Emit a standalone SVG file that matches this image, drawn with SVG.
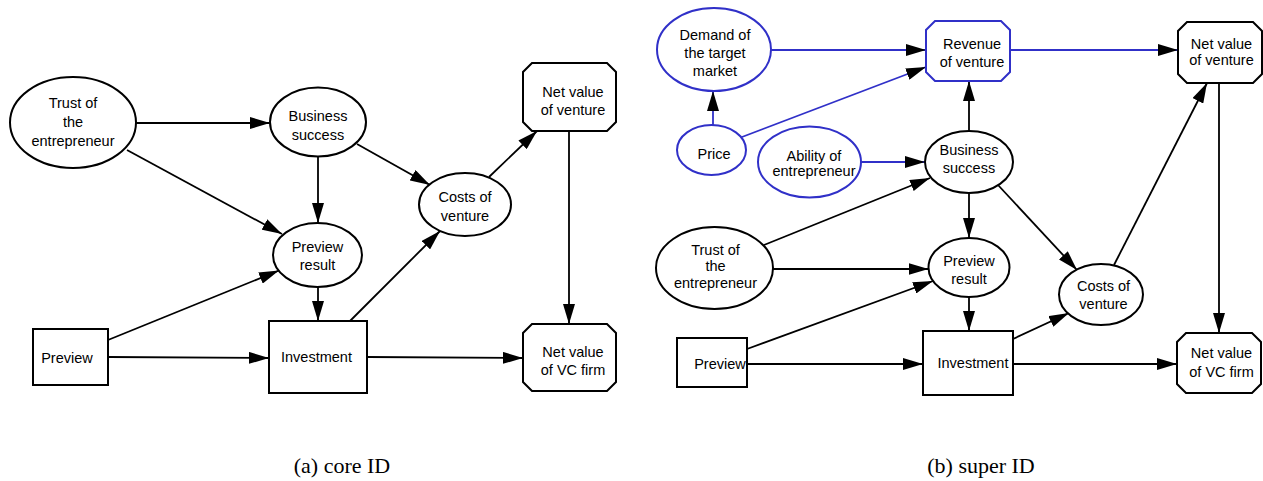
<svg xmlns="http://www.w3.org/2000/svg" width="1263" height="481" viewBox="0 0 1263 481">
<style>
.n{fill:#fff;stroke:#000;stroke-width:2}
.b{fill:#fff;stroke:#3030c8;stroke-width:2}
.t{font-family:"Liberation Sans",Arial,sans-serif;font-size:14.5px;fill:#000;text-anchor:middle}
.e{fill:none;stroke:#000;stroke-width:1.8;marker-end:url(#ah)}
.eb{fill:none;stroke:#3030c8;stroke-width:1.8;marker-end:url(#ah)}
.cap{font-family:"Liberation Serif","Times New Roman",serif;font-size:22px;fill:#000;text-anchor:middle}
</style>
<defs>
<marker id="ah" markerUnits="userSpaceOnUse" markerWidth="20" markerHeight="12" viewBox="0 0 20 12" refX="20" refY="6" orient="auto">
<path d="M0,0 L20,6 L0,12 z" fill="#000"/>
</marker>
</defs>
<rect width="1263" height="481" fill="#fff"/>
<g id="connectors">
<path class="e" d="M136,123 L270,123"/>
<path class="e" d="M127,150 L282,234"/>
<path class="e" d="M318,156.5 L318,223"/>
<path class="e" d="M357,144 L430,185"/>
<path class="e" d="M489,177 L537,131"/>
<path class="e" d="M569,131 L569,324"/>
<path class="e" d="M108,340 L279,270.5"/>
<path class="e" d="M108,357 L269,358"/>
<path class="e" d="M318,287 L318,321"/>
<path class="e" d="M349,322 L440,231"/>
<path class="e" d="M367,357 L523,358"/>
<path class="eb" d="M771,50 L926,50"/>
<path class="eb" d="M713,125 L713,91"/>
<path class="eb" d="M742,137 L926,67"/>
<path class="eb" d="M861,162 L925,162"/>
<path class="eb" d="M1010,50 L1178,50"/>
<path class="e" d="M969,131 L969,81"/>
<path class="e" d="M764,245 L930,178"/>
<path class="e" d="M773,269 L928.5,269"/>
<path class="e" d="M747,349 L933,281"/>
<path class="e" d="M747,364 L923,364"/>
<path class="e" d="M969,193 L969,238"/>
<path class="e" d="M998,185 L1077,270"/>
<path class="e" d="M969,297 L969,331"/>
<path class="e" d="M1013,339 L1069,313"/>
<path class="e" d="M1013,364 L1177,364"/>
<path class="e" d="M1114,265 L1207,83"/>
<path class="e" d="M1219,83 L1219,333"/>
</g>
<g id="trustA"><ellipse class="n" cx="73" cy="122.5" rx="63" ry="45.5"/><text class="t" x="73" y="108">Trust of</text><text class="t" x="73" y="127">the</text><text class="t" x="73" y="146">entrepreneur</text></g>
<g id="busA"><ellipse class="n" cx="318" cy="122" rx="48" ry="34.5"/><text class="t" x="318" y="121">Business</text><text class="t" x="318" y="140">success</text></g>
<g id="prevResA"><ellipse class="n" cx="317.5" cy="255" rx="44.5" ry="32"/><text class="t" x="317.5" y="252">Preview</text><text class="t" x="317.5" y="270">result</text></g>
<g id="costsA"><ellipse class="n" cx="465" cy="204.5" rx="46" ry="31.5"/><text class="t" x="465" y="202">Costs of</text><text class="t" x="465" y="221">venture</text></g>
<g id="netVentA"><polygon class="n" points="532,63 607,63 616,72 616,122 607,131 532,131 523,122 523,72"/><text class="t" x="573" y="97">Net value</text><text class="t" x="573" y="115">of venture</text></g>
<g id="netVCA"><polygon class="n" points="532,324 607,324 616,333 616,382 607,391 532,391 523,382 523,333"/><text class="t" x="573" y="357">Net value</text><text class="t" x="573" y="375">of VC firm</text></g>
<g id="previewA"><rect class="n" x="33" y="329" width="75" height="56"/><text class="t" x="67" y="363">Preview</text></g>
<g id="investA"><rect class="n" x="269" y="321" width="98" height="72"/><text class="t" x="316.5" y="362">Investment</text></g>
<g id="demandB"><ellipse class="b" cx="714" cy="49.5" rx="57" ry="41.5"/><text class="t" x="715" y="40">Demand of</text><text class="t" x="715" y="58">the target</text><text class="t" x="715" y="76">market</text></g>
<g id="priceB"><ellipse class="b" cx="711.5" cy="150" rx="34.5" ry="25"/><text class="t" x="714" y="159">Price</text></g>
<g id="abilityB"><ellipse class="b" cx="809.5" cy="162" rx="51.5" ry="35.5"/><text class="t" x="814" y="161">Ability of</text><text class="t" x="814" y="176">entrepreneur</text></g>
<g id="revenueB"><polygon class="b" points="935,21 1001,21 1010,30 1010,72 1001,81 935,81 926,72 926,30"/><text class="t" x="972" y="49">Revenue</text><text class="t" x="972" y="67">of venture</text></g>
<g id="netVentB"><polygon class="n" points="1187,22 1253,22 1262,31 1262,74 1253,83 1187,83 1178,74 1178,31"/><text class="t" x="1221.5" y="49">Net value</text><text class="t" x="1221.5" y="65">of venture</text></g>
<g id="busB"><ellipse class="n" cx="969" cy="162" rx="44" ry="31"/><text class="t" x="969" y="155">Business</text><text class="t" x="969" y="173">success</text></g>
<g id="trustB"><ellipse class="n" cx="714.5" cy="268" rx="58.5" ry="41"/><text class="t" x="715.5" y="255">Trust of</text><text class="t" x="715.5" y="271">the</text><text class="t" x="715.5" y="288">entrepreneur</text></g>
<g id="previewB"><rect class="n" x="677" y="338" width="70" height="49"/><text class="t" x="720" y="369">Preview</text></g>
<g id="prevResB"><ellipse class="n" cx="969" cy="267.5" rx="40.5" ry="29.5"/><text class="t" x="969" y="266">Preview</text><text class="t" x="969" y="284">result</text></g>
<g id="investB"><rect class="n" x="923" y="331" width="90" height="64"/><text class="t" x="973" y="368">Investment</text></g>
<g id="costsB"><ellipse class="n" cx="1101" cy="294.5" rx="42" ry="30.5"/><text class="t" x="1103.5" y="291">Costs of</text><text class="t" x="1103.5" y="309">venture</text></g>
<g id="netVCB"><polygon class="n" points="1186,333 1252,333 1261,342 1261,384 1252,393 1186,393 1177,384 1177,342"/><text class="t" x="1221.5" y="358">Net value</text><text class="t" x="1221.5" y="377">of VC firm</text></g>
<text class="cap" x="342" y="473">(a) core ID</text>
<text class="cap" x="981" y="473">(b) super ID</text>
</svg>
